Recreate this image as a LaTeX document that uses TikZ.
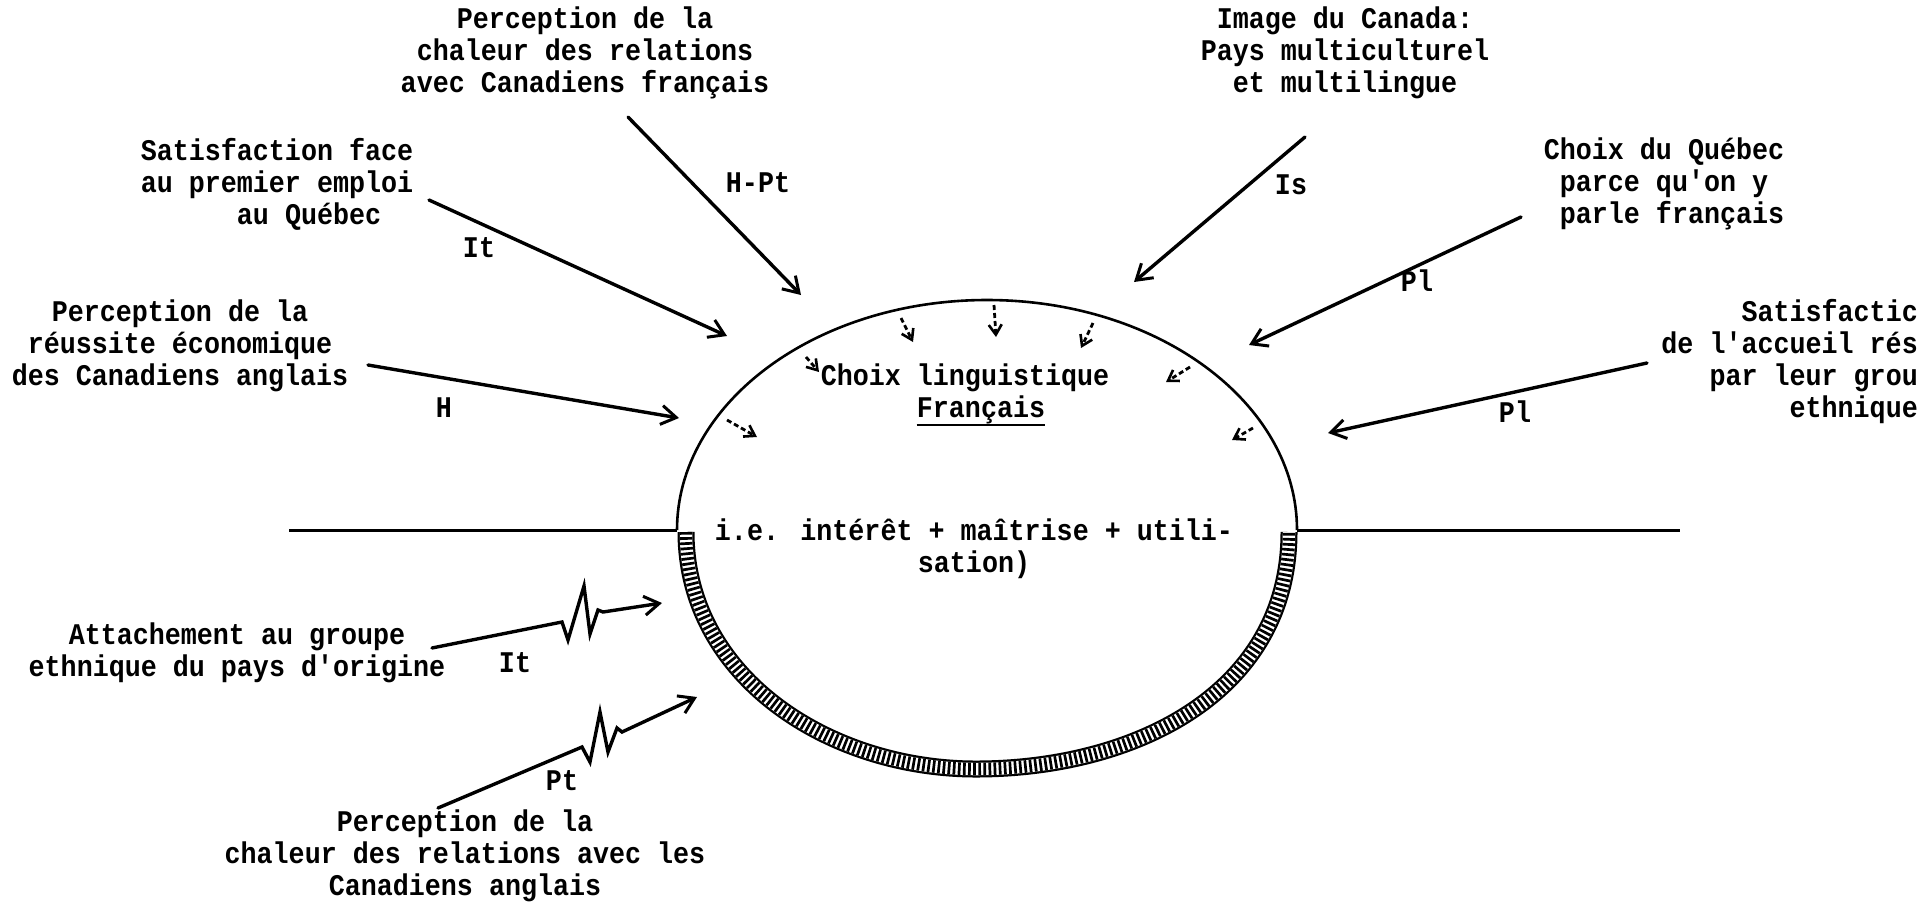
\documentclass[tikz,border=0pt]{standalone}
\usepackage{fontspec}
\newfontfamily\tw{Liberation Mono}[FakeStretch=0.89]
\usetikzlibrary{arrows.meta}
\begin{document}
\begin{tikzpicture}[x=1pt,y=-1pt,
  lbl/.style={font=\tw\bfseries\fontsize{30}{32}\selectfont, align=center, inner sep=0pt},
  arr/.style={line width=3.4pt, line cap=round, -{Straight Barb[length=15pt,width=19pt,line width=3pt]}},
  sarr/.style={line width=2.8pt, dash pattern=on 5pt off 3pt, -{Straight Barb[length=10pt,width=13pt,line width=2.6pt]}},
  outline/.style={line width=2.6pt},
  hline/.style={line width=3pt}]
\fill[white] (0,0) rectangle (1929,906);
\useasboundingbox (0,0) rectangle (1929,906);

% ---- text labels ----
\node[lbl] (A) at (585,53) {Perception de la\\chaleur des relations\\avec Canadiens français};
\node[lbl, align=left] (B) at (277,184) {Satisfaction face\\au premier emploi\\\hphantom{xxxxxx}au Québec};
\node[lbl] (C) at (180,346) {Perception de la\\réussite économique\\des Canadiens anglais};
\node[lbl] (D) at (1345,53) {Image du Canada:\\Pays multiculturel\\et multilingue};
\node[lbl, align=left] (E) at (1664,184) {Choix du Québec\\\hphantom{x}parce qu'on y\\\hphantom{x}parle français};
\node[lbl, align=right, anchor=east] (F) at (1918,362) {Satisfactic\\de l'accueil rés\\par leur grou\\ethnique};
\node[lbl] (G) at (237,653) {Attachement au groupe\\ethnique du pays d'origine};
\node[lbl] (Hb) at (465,856) {Perception de la\\chaleur des relations avec les\\Canadiens anglais};

\node[lbl] (choix) at (965,378) {Choix linguistique};
\node[lbl] (fr) at (981,410) {Français};
\draw[line width=2.2pt] ([yshift=-7pt]fr.base west) -- ([yshift=-7pt]fr.base east);
\node[lbl] (ie) at (974,549) {i.e. intérêt + maîtrise + utili-\\sation)};

\node[lbl] (lHPt) at (758,183) {H-Pt};
\node[lbl] (lIt) at (479,248) {It};
\node[lbl] (lH) at (444,408) {H};
\node[lbl] (lIs) at (1291,185) {Is};
\node[lbl] (lPa) at (1417,281) {Pl};
\node[lbl] (lPb) at (1515,412) {Pl};
\node[lbl] (lIt2) at (515,663) {It};
\node[lbl] (lPt) at (562,781) {Pt};

% ---- central figure ----
\coordinate (eL) at (677,530);
\coordinate (eR) at (1297,530);
\draw[outline] (eL) arc[start angle=180, end angle=360, x radius=310, y radius=230];
% hatched band
\def\bandpath{(686,532) .. controls (686,676) and (828,769) .. (976,769) .. controls (1133,769) and (1289,694) .. (1289,532)}
\draw[line width=17pt] \bandpath;
\draw[line width=12.5pt, white] \bandpath;
\draw[line width=12.5pt, dash pattern=on 2.7pt off 2.4pt] \bandpath;

% horizontal lines
\coordinate (hl) at (289,530);
\coordinate (hr) at (1680,530);
\draw[hline] (hl) -- (eL);
\draw[hline] (eR) -- (hr);

% ---- arrows ----
\coordinate (t1) at (628,117); \coordinate (h1) at (801,295);
\coordinate (t2) at (429,200); \coordinate (h2) at (727,336);
\coordinate (t3) at (368,365); \coordinate (h3) at (679,418);
\coordinate (t4) at (1305,137); \coordinate (h4) at (1134,282);
\coordinate (t5) at (1521,217); \coordinate (h5) at (1249,345);
\coordinate (t6) at (1647,363); \coordinate (h6) at (1328,433);
\draw[arr] (t1) -- (h1);
\draw[arr] (t2) -- (h2);
\draw[arr] (t3) -- (h3);
\draw[arr] (t4) -- (h4);
\draw[arr] (t5) -- (h5);
\draw[arr] (t6) -- (h6);

% zigzag arrows
\coordinate (z1t) at (432,648); \coordinate (z1a) at (562,622); \coordinate (z1h) at (662,603);
\coordinate (z2t) at (438,808); \coordinate (z2a) at (582,747); \coordinate (z2h) at (697,697);
\draw[arr, line join=miter] (z1t) -- (z1a) -- ++(6,18) -- ++(16,-54) -- ++(6,48) -- ++(8,-24) -- ++(5,2) -- (z1h);
\draw[arr, line join=miter] (z2t) -- (z2a) -- ++(8,15) -- ++(10,-50) -- ++(8,40) -- ++(9,-24) -- ++(5,4) -- (z2h);

% small dashed arrows inside
\foreach \i/\a/\b in {1/{727,420}/{757,437}, 2/{806,357}/{819,372}, 3/{901,318}/{913,342},
  4/{994,305}/{996,337}, 5/{1093,323}/{1081,348}, 6/{1190,367}/{1166,382}, 7/{1253,428}/{1232,440}}{
  \coordinate (s\i t) at (\a); \coordinate (s\i h) at (\b);
  \draw[sarr] (s\i t) -- (s\i h);
}
\end{tikzpicture}
\end{document}
